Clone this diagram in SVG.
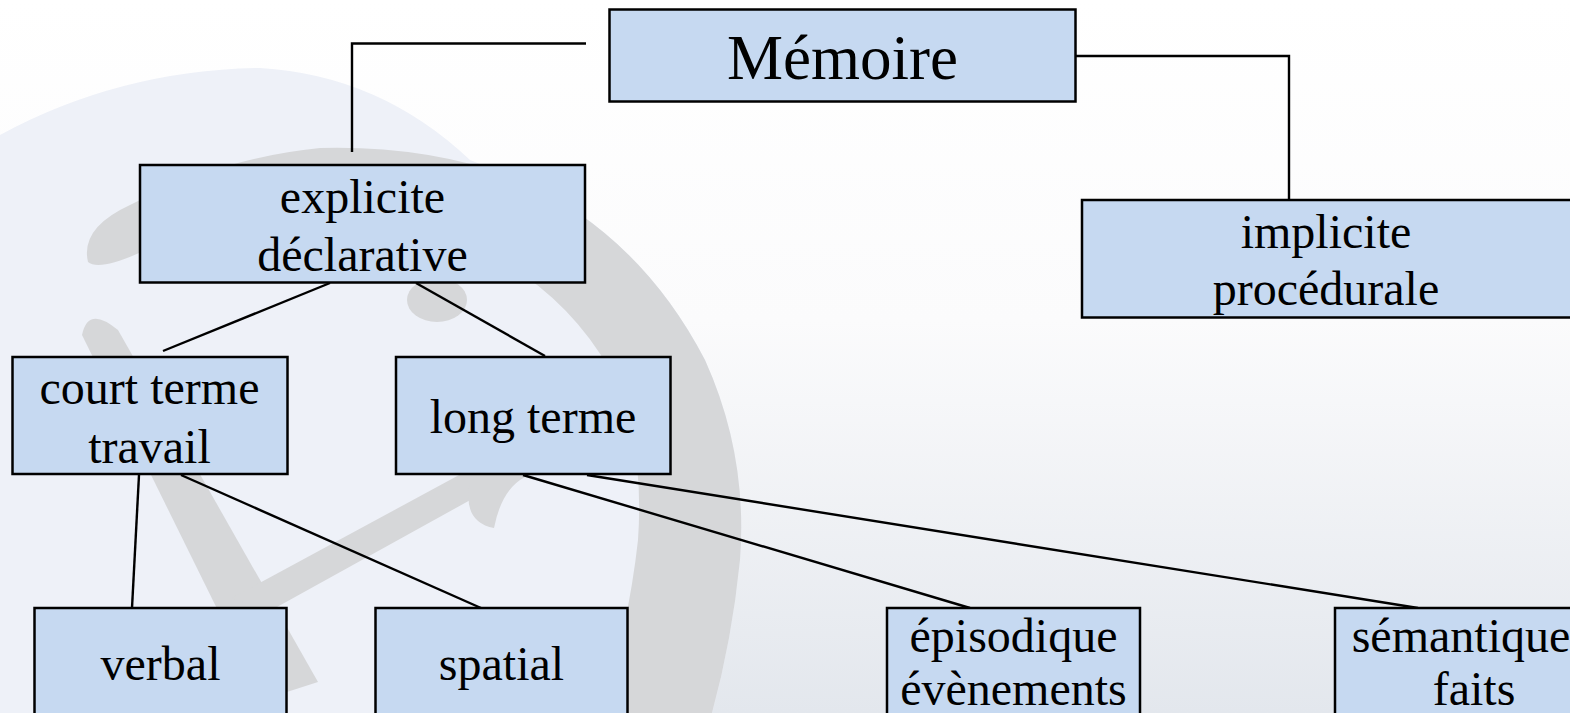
<svg xmlns="http://www.w3.org/2000/svg" width="1570" height="713" viewBox="0 0 1570 713">
<defs>
<linearGradient id="bg" x1="0" y1="0" x2="0" y2="1">
<stop offset="0" stop-color="#ffffff"/>
<stop offset="0.45" stop-color="#fbfbfc"/>
<stop offset="1" stop-color="#e3e7ed"/>
</linearGradient>
<style>
.box{fill:#c6d9f1;stroke:#000;stroke-width:2.5}
.t{font-family:"Liberation Serif","Times New Roman",serif;font-size:48px;fill:#000;text-anchor:middle}
.big{font-size:63px}
.c{fill:none;stroke:#000;stroke-width:2.4}
.wm{fill:#d6d7d9}
</style>
</defs>
<rect width="1570" height="713" fill="url(#bg)"/>
<g id="watermark">
<path d="M0 135 Q120 70 260 68 Q380 75 470 160 L520 180 Q640 235 705 360 Q748 455 740 560 Q732 640 712 713 L0 713 Z" fill="#eef1f8"/>
<path class="wm" d="M88 262 Q80 228 130 205 Q220 158 320 148 Q430 145 520 180 Q640 235 705 360 Q748 455 740 560 Q732 640 712 713 L600 713 Q628 630 638 540 Q645 440 610 370 Q570 300 500 260 Q420 222 330 215 Q230 212 150 248 Q100 272 88 262 Z"/>
<path class="wm" d="M82 335 Q88 305 118 330 L318 682 L262 700 Z"/>
<path class="wm" d="M232 598 L472 468 Q505 452 492 488 L268 612 Z"/>
<path class="wm" d="M478 445 Q520 412 566 440 Q584 470 548 472 Q505 472 494 528 Q462 522 470 482 Z"/>
<ellipse class="wm" cx="437" cy="300" rx="30" ry="22"/>
</g>
<g id="connectors">
<polyline class="c" points="586,43.5 352,43.5 352,152"/>
<polyline class="c" points="1076,56 1289,56 1289,200"/>
<line class="c" x1="330" y1="283" x2="163" y2="351"/>
<line class="c" x1="416" y1="283" x2="545" y2="356"/>
<line class="c" x1="139" y1="475" x2="132" y2="608"/>
<line class="c" x1="181" y1="475" x2="481" y2="608"/>
<line class="c" x1="523" y1="475" x2="970" y2="608"/>
<line class="c" x1="587" y1="475" x2="1418" y2="608"/>
</g>
<g id="memoire">
<rect class="box" x="609.5" y="9.5" width="466" height="92"/>
<text class="t big" x="842.5" y="79">Mémoire</text>
</g>
<g id="explicite">
<rect class="box" x="140" y="165" width="445" height="117.5"/>
<text class="t" x="362.5" y="213">explicite</text>
<text class="t" x="362.5" y="270.5">déclarative</text>
</g>
<g id="implicite">
<rect class="box" x="1082" y="200" width="490" height="117.5"/>
<text class="t" x="1326" y="248">implicite</text>
<text class="t" x="1326" y="305">procédurale</text>
</g>
<g id="court-terme">
<rect class="box" x="12.5" y="357" width="275" height="117"/>
<text class="t" x="149.5" y="404">court terme</text>
<text class="t" x="149.5" y="462.5">travail</text>
</g>
<g id="long-terme">
<rect class="box" x="396" y="357" width="274.5" height="117"/>
<text class="t" x="533" y="433">long terme</text>
</g>
<g id="verbal">
<rect class="box" x="34.5" y="608" width="252" height="120"/>
<text class="t" x="160.5" y="680">verbal</text>
</g>
<g id="spatial">
<rect class="box" x="375.5" y="608" width="252" height="120"/>
<text class="t" x="501.5" y="680">spatial</text>
</g>
<g id="episodique">
<rect class="box" x="887" y="608" width="253" height="120"/>
<text class="t" x="1013.5" y="651.5">épisodique</text>
<text class="t" x="1013.5" y="705">évènements</text>
</g>
<g id="semantique">
<rect class="box" x="1335" y="608" width="260" height="120"/>
<text class="t" x="1461" y="651.5">sémantique</text>
<text class="t" x="1474" y="705">faits</text>
</g>
</svg>
